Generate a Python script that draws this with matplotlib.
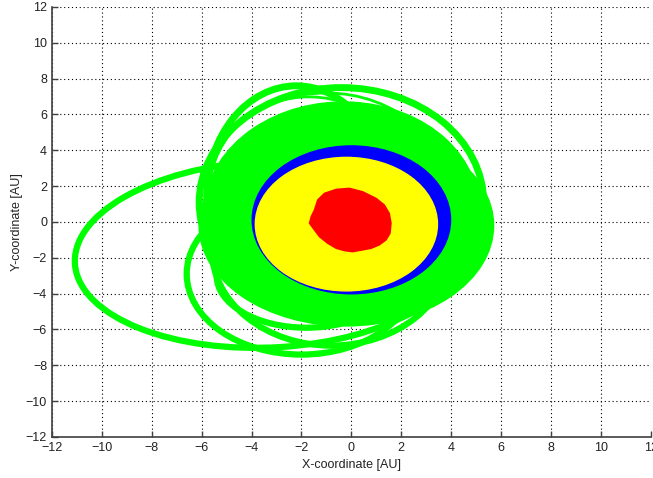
import matplotlib
matplotlib.use('Agg')
import numpy as np
import matplotlib.pyplot as plt
from matplotlib.patches import Ellipse, Polygon

# densely covered orbit region (AU): centre x, centre y, width, height, tilt
dense_x = [-0.2, -0.4]
dense_y = [-0.2, 0.6]
dense_w = [11.8, 11.0]
dense_h = [11.2, 12.2]
dense_ang = [0, -4]

# single orbits standing out of the dense region
loop_x = [-3.3, -2.0, -1.8, -0.8, -0.4, -2.2, -1.4, -1.0]
loop_y = [-1.8, -2.9, -3.0, -1.5, 1.1, 1.4, 1.0, 0.9]
loop_w = [15.6, 9.2, 7.2, 9.6, 11.4, 7.2, 8.6, 10.2]
loop_h = [10.4, 9.0, 5.8, 10.8, 12.8, 12.4, 12.0, 12.6]
loop_ang = [5, 0, 0, 0, 0, 0, 6, 0]
loop_lw = [4.5, 4.5, 4.5, 4.5, 5.0, 5.0, 2.0, 2.0]

blue_x, blue_y, blue_w, blue_h = 0.0, 0.12, 7.95, 8.25
yel_x, yel_y, yel_w, yel_h = -0.2, -0.12, 7.3, 7.45

# inner body outline
red_x = [-1.08, -0.61, -0.08, 0.45, 0.99, 1.32, 1.52, 1.59, 1.55, 1.39, 1.12,
         0.79, 0.45, 0.05, -0.28, -0.61, -0.95, -1.28, -1.48, -1.68, -1.61,
         -1.48, -1.35]
red_y = [1.6, 1.82, 1.88, 1.69, 1.32, 0.95, 0.48, -0.07, -0.63, -1.0, -1.28,
         -1.47, -1.56, -1.66, -1.6, -1.47, -1.19, -0.82, -0.45, -0.07, 0.3,
         0.67, 1.23]

ticks = list(range(-12, 13, 2))

plt.rcParams['font.family'] = ['Liberation Sans', 'DejaVu Sans']

fig = plt.figure(figsize=(6.53, 4.78), dpi=100)
ax = fig.add_axes([0.0796, 0.0858, 0.917, 0.8996])

green = '#00ff00'
for x, y, w, h, a, lw in zip(loop_x, loop_y, loop_w, loop_h, loop_ang, loop_lw):
    ax.add_patch(Ellipse((x, y), w, h, angle=a, fill=False, edgecolor=green,
                         lw=lw, zorder=2))
for x, y, w, h, a in zip(dense_x, dense_y, dense_w, dense_h, dense_ang):
    ax.add_patch(Ellipse((x, y), w, h, angle=a, color=green, zorder=3))
ax.add_patch(Ellipse((blue_x, blue_y), blue_w, blue_h, color='#0000ff', zorder=4))
ax.add_patch(Ellipse((yel_x, yel_y), yel_w, yel_h, color='#ffff00', zorder=5))
ax.add_patch(Polygon(np.column_stack([red_x, red_y]), closed=True,
                     color='#ff0000', zorder=6))

ax.set_xlim(-12, 12)
ax.set_ylim(-12, 12)
ax.set_xticks(ticks)
ax.set_yticks(ticks)
ax.grid(True, color='black', lw=0.8, linestyle=(0, (1, 2.5)), zorder=0)
ax.set_axisbelow(True)
ax.tick_params(direction='in', length=4, width=1, colors='#404040',
               labelsize=9, labelcolor='#222222')
for s in ['top', 'right']:
    ax.spines[s].set_visible(False)
for s in ['left', 'bottom']:
    ax.spines[s].set_color('#404040')
    ax.spines[s].set_linewidth(1.2)

ax.set_xlabel('X-coordinate [AU]', fontsize=9, color='#222222', labelpad=4)
ax.set_ylabel('Y-coordinate [AU]', fontsize=9, color='#222222', labelpad=2)

fig.savefig('out.png', dpi=100)
